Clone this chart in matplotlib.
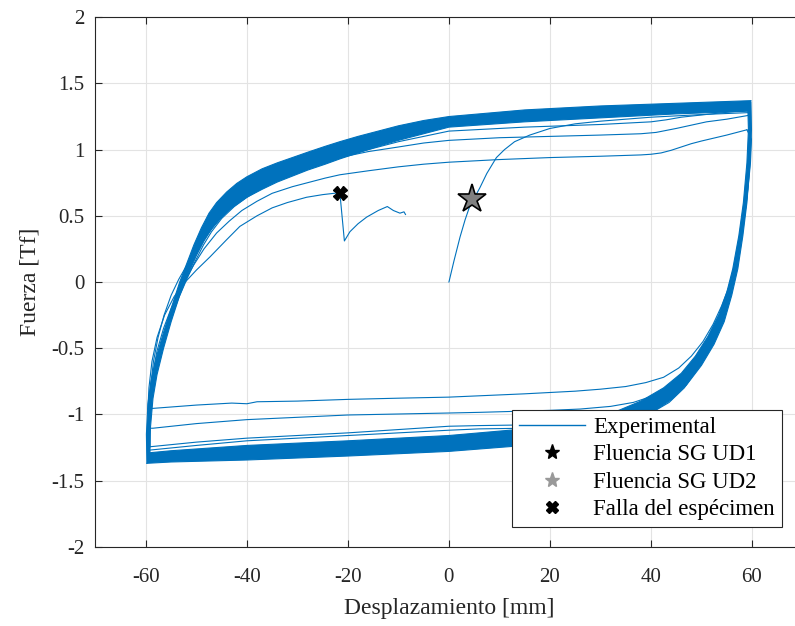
# -*- coding: utf-8 -*-
import numpy as np
import matplotlib
matplotlib.use('Agg')
import matplotlib.pyplot as plt
from matplotlib.path import Path
from matplotlib.patches import PathPatch
from matplotlib.lines import Line2D

# ---- datos (desplazamiento [mm], fuerza [Tf]) ----
# banda de ciclos estables: rama de carga (hacia +60), borde exterior e interior
carga_ext_x = [-59.8, -59.9, -59.6, -59, -57.8, -56.5, -55, -53.3, -52, -50.5, -49, -47.5, -46, -44, -42, -40,
               -37, -34, -31, -28, -24.5, -21.6, -18, -14, -10, -5, 0, 15, 30, 45, 59.8]
carga_ext_y = [-1.37, -1.15, -0.92, -0.75, -0.55, -0.38, -0.2, 0.0, 0.13, 0.28, 0.41, 0.52, 0.6, 0.68, 0.745, 0.795,
               0.855, 0.9, 0.94, 0.98, 1.025, 1.06, 1.1, 1.14, 1.18, 1.22, 1.25, 1.30, 1.33, 1.35, 1.37]
carga_int_x = [-59.2, -59.1, -58.6, -57.8, -56.5, -55, -53.3, -51.5, -50, -48.5, -47, -45, -43, -40, -37, -34,
               -31, -28, -24.5, -21.6, -18, -14, -10, -5, 0, 15, 30, 45, 59.2]
carga_int_y = [-1.29, -1.1, -0.88, -0.7, -0.5, -0.3, -0.1, 0.07, 0.2, 0.31, 0.4, 0.49, 0.56, 0.64, 0.7, 0.755,
               0.8, 0.845, 0.89, 0.93, 0.975, 1.025, 1.07, 1.12, 1.17, 1.21, 1.24, 1.27, 1.29]
# rama de descarga (hacia -60), borde exterior e interior
desc_ext_x = [59.8, 59.9, 59.6, 59.0, 58.2, 57.2, 56, 54.5, 52.5, 50, 47, 44, 40, 35, 30, 24, 15, 0, -20, -40, -55, -59.8]
desc_ext_y = [1.36, 1.15, 0.9, 0.6, 0.35, 0.1, -0.1, -0.3, -0.47, -0.63, -0.78, -0.89, -0.99, -1.08, -1.14, -1.19,
              -1.235, -1.28, -1.315, -1.345, -1.36, -1.37]
desc_int_x = [59.2, 59.3, 59.0, 58.3, 57.4, 56.2, 55, 53.4, 51.3, 48.8, 46, 42.5, 38, 33, 26, 18, 6, 0, -20, -40, -55, -59.2]
desc_int_y = [1.29, 1.15, 0.9, 0.6, 0.35, 0.1, -0.08, -0.25, -0.41, -0.56, -0.69, -0.8, -0.9, -0.98, -1.05, -1.1,
              -1.14, -1.16, -1.2, -1.235, -1.275, -1.29]

# curvas individuales (carga inicial y ciclos degradados)
inicial_x = [0, 1, 2.2, 3.2, 4.1, 5.1, 6.1, 7.5, 9.4, 11, 13, 16, 20, 25, 30, 40, 50, 59.5]
inicial_y = [0, 0.16, 0.34, 0.47, 0.57, 0.64, 0.71, 0.82, 0.94, 1.0, 1.06, 1.11, 1.16, 1.195, 1.215, 1.245, 1.265, 1.28]
desc4_x = [59.5, 59.7, 59.3, 58.6, 57.7, 56.6, 55.3, 53.7, 51.7, 49.3, 46.6, 43.6, 40, 36, 31, 25, 15, 6, 0,
           -20, -40, -50, -59.2]
desc4_y = [1.28, 1.1, 0.85, 0.6, 0.35, 0.12, -0.08, -0.28, -0.47, -0.65, -0.8, -0.91, -0.99, -1.04, -1.075, -1.09,
           -1.105, -1.11, -1.12, -1.16, -1.2, -1.235, -1.27]
cargaD_x = [-59.3, -59.6, -59.2, -58.3, -57, -55.3, -53.5, -51.8, -50.2, -48.6, -47, -45, -42.5, -40, -37, -34, -31,
            -28, -24, -21.6, -16, -10, -5, 0, 15, 30, 40, 43, 46, 52, 59.5]
cargaD_y = [-1.27, -1.1, -0.9, -0.7, -0.5, -0.3, -0.12, 0.03, 0.16, 0.28, 0.38, 0.48, 0.57, 0.64, 0.71, 0.77, 0.82,
            0.86, 0.91, 0.94, 1.0, 1.06, 1.1, 1.14, 1.17, 1.19, 1.21, 1.225, 1.245, 1.27, 1.3]
desc3_x = [59.5, 59.6, 59.2, 58.5, 57.6, 56.5, 55.2, 53.6, 51.6, 49.2, 46.5, 43.5, 40, 36, 31, 25, 15, 6, 0,
           -20, -40, -50, -59.2]
desc3_y = [1.3, 1.1, 0.85, 0.6, 0.35, 0.12, -0.08, -0.27, -0.46, -0.63, -0.77, -0.88, -0.96, -1.01, -1.045, -1.065,
           -1.08, -1.085, -1.09, -1.14, -1.18, -1.21, -1.245]
cargaC_x = [-59.2, -59.4, -59.1, -58.5, -57.6, -56.4, -55, -53.5, -52, -50, -48, -46, -44, -42, -39, -36, -33, -30,
            -26, -21.6, -16, -10, -5, 0, 10, 20, 30, 38, 41, 43, 45, 48, 51, 55, 59.5]
cargaC_y = [-1.245, -1.0, -0.8, -0.6, -0.42, -0.25, -0.1, 0.02, 0.12, 0.24, 0.35, 0.45, 0.53, 0.6, 0.68, 0.75, 0.8,
            0.845, 0.895, 0.94, 0.985, 1.02, 1.05, 1.07, 1.09, 1.10, 1.11, 1.12, 1.13, 1.145, 1.16, 1.185, 1.21,
            1.23, 1.26]
desc2_x = [59.5, 59.8, 59.5, 58.9, 58, 56.9, 55.6, 54, 52, 49.6, 47, 44, 40.5, 36.5, 32, 26, 20, 6, 0,
           -20, -40, -50, -58.6, -59.5]
desc2_y = [1.26, 1.1, 0.85, 0.6, 0.35, 0.12, -0.07, -0.25, -0.42, -0.57, -0.69, -0.79, -0.86, -0.91, -0.94, -0.96,
           -0.97, -0.985, -0.99, -1.005, -1.04, -1.07, -1.105, -1.105]
cargaB_x = [-59.5, -59.3, -58.7, -57.8, -56.5, -55, -53.4, -52, -50.5, -48.5, -46, -43.5, -41, -38, -35, -31, -28,
            -24.5, -21.6, -16, -10, -5, 0, 10, 20, 30, 38, 40, 42, 44, 46, 48, 50, 55, 59]
cargaB_y = [-1.105, -0.9, -0.7, -0.52, -0.35, -0.2, -0.07, 0.03, 0.13, 0.25, 0.37, 0.46, 0.54, 0.61, 0.67, 0.72, 0.75,
            0.785, 0.81, 0.84, 0.87, 0.89, 0.905, 0.925, 0.94, 0.95, 0.96, 0.965, 0.975, 0.995, 1.02, 1.045, 1.065,
            1.11, 1.15]
desc1_x = [59, 59.9, 59.7, 59.2, 58.5, 57.6, 56.6, 55.4, 54, 52.3, 50.3, 48, 45.5, 42.5, 39, 35, 30, 25, 15, 6, 0,
           -10, -20, -30, -38, -40, -43, -50, -58.6, -59.6]
desc1_y = [1.15, 1.08, 0.9, 0.7, 0.5, 0.3, 0.12, -0.04, -0.18, -0.32, -0.45, -0.56, -0.65, -0.72, -0.76, -0.79,
           -0.81, -0.825, -0.845, -0.86, -0.87, -0.878, -0.887, -0.9, -0.905, -0.92, -0.915, -0.93, -0.955, -0.96]
falla_x = [-59.6, -59.4, -58.8, -57.8, -56.3, -54.4, -52.2, -50, -47.3, -44, -41.4, -38, -35, -32, -28.2, -25,
           -21.6, -20.7, -19.6, -18, -16.3, -14, -12.2, -11, -9.7, -8.9, -8.6]
falla_y = [-0.96, -0.8, -0.6, -0.42, -0.25, -0.11, 0.0, 0.09, 0.19, 0.32, 0.42, 0.5, 0.56, 0.6, 0.64, 0.66,
           0.675, 0.31, 0.38, 0.44, 0.49, 0.54, 0.57, 0.54, 0.52, 0.53, 0.51]

# puntos notables
ud1 = (4.5, 0.625)
ud2 = (4.5, 0.625)
falla = (-21.6, 0.675)

azul = '#0072BD'

plt.rcParams['font.family'] = ['Liberation Serif', 'DejaVu Serif']
plt.rcParams['axes.unicode_minus'] = False

fig = plt.figure(figsize=(7.95, 6.26), dpi=100)
ax = fig.add_axes([0.12, 0.1267, 0.8894, 0.8457])

# banda gruesa de ciclos estables (anillo relleno)
ext = list(zip(carga_ext_x, carga_ext_y)) + list(zip(desc_ext_x, desc_ext_y))
inn = list(zip(carga_int_x, carga_int_y)) + list(zip(desc_int_x, desc_int_y))
inn = inn[::-1]
verts = ext + [ext[0]] + inn + [inn[0]]
codes = ([Path.MOVETO] + [Path.LINETO] * (len(ext) - 1) + [Path.CLOSEPOLY]
         + [Path.MOVETO] + [Path.LINETO] * (len(inn) - 1) + [Path.CLOSEPOLY])
ax.add_patch(PathPatch(Path(verts, codes), facecolor=azul, edgecolor='none', zorder=2))
for xs, ys in [(carga_ext_x, carga_ext_y), (carga_int_x, carga_int_y),
               (desc_ext_x, desc_ext_y), (desc_int_x, desc_int_y)]:
    ax.plot(xs, ys, color=azul, lw=0.8, zorder=2)

# ciclos individuales
curvas = [(inicial_x, inicial_y), (desc4_x, desc4_y), (cargaD_x, cargaD_y),
          (desc3_x, desc3_y), (cargaC_x, cargaC_y), (desc2_x, desc2_y),
          (cargaB_x, cargaB_y), (desc1_x, desc1_y), (falla_x, falla_y)]
for xs, ys in curvas:
    ax.plot(xs, ys, color=azul, lw=0.8, zorder=3)

ax.plot(ud1[0], ud1[1], marker='*', color='k', ms=14, ls='none', zorder=4)
ax.plot(ud2[0], ud2[1], marker='*', mfc='#808080', mec='k', mew=1.2, ms=21, ls='none', zorder=5)
ax.plot(falla[0], falla[1], marker='X', color='k', mec='k', ms=10, ls='none', zorder=5)

ax.set_xlim(-70, 70)
ax.set_ylim(-2, 2)
ax.set_xticks(np.arange(-60, 61, 20))
ax.set_yticks(np.arange(-2, 2.01, 0.5))
ax.set_yticklabels(['-2', '-1.5', '-1', '-0.5', '0', '0.5', '1', '1.5', '2'])
ax.grid(True, color='#e3e3e3', lw=0.8)
ax.set_axisbelow(True)
ax.tick_params(direction='in', top=True, right=True, length=5, width=0.8,
               color='#262626', labelsize=15, labelcolor='#262626')
ax.tick_params(axis='x', pad=15)
ax.tick_params(axis='y', pad=8)
for s in ax.spines.values():
    s.set_color('#262626')
    s.set_linewidth(0.8)
ax.set_xlabel('Desplazamiento [mm]', fontsize=17, color='#262626', labelpad=8)
ax.set_ylabel('Fuerza [Tf]', fontsize=17, color='#262626', labelpad=8)

handles = [Line2D([], [], color=azul, lw=1),
           Line2D([], [], marker='*', color='k', ls='none', ms=11),
           Line2D([], [], marker='*', color='#999999', ls='none', ms=11),
           Line2D([], [], marker='X', color='k', ls='none', ms=8)]
etiquetas = ['Experimental', 'Fluencia SG UD1', 'Fluencia SG UD2', 'Falla del espécimen']
leg = ax.legend(handles, etiquetas, loc='lower right',
                bbox_to_anchor=(782 / 795, (626 - 527) / 626), bbox_transform=fig.transFigure,
                borderaxespad=0, fancybox=False, framealpha=1, edgecolor='#262626',
                fontsize=16.5, handlelength=2.9, labelspacing=0.28, borderpad=0.3,
                handletextpad=0.35)
leg.get_frame().set_linewidth(0.8)
leg.set_zorder(10)

fig.savefig('out.png', dpi=100)
